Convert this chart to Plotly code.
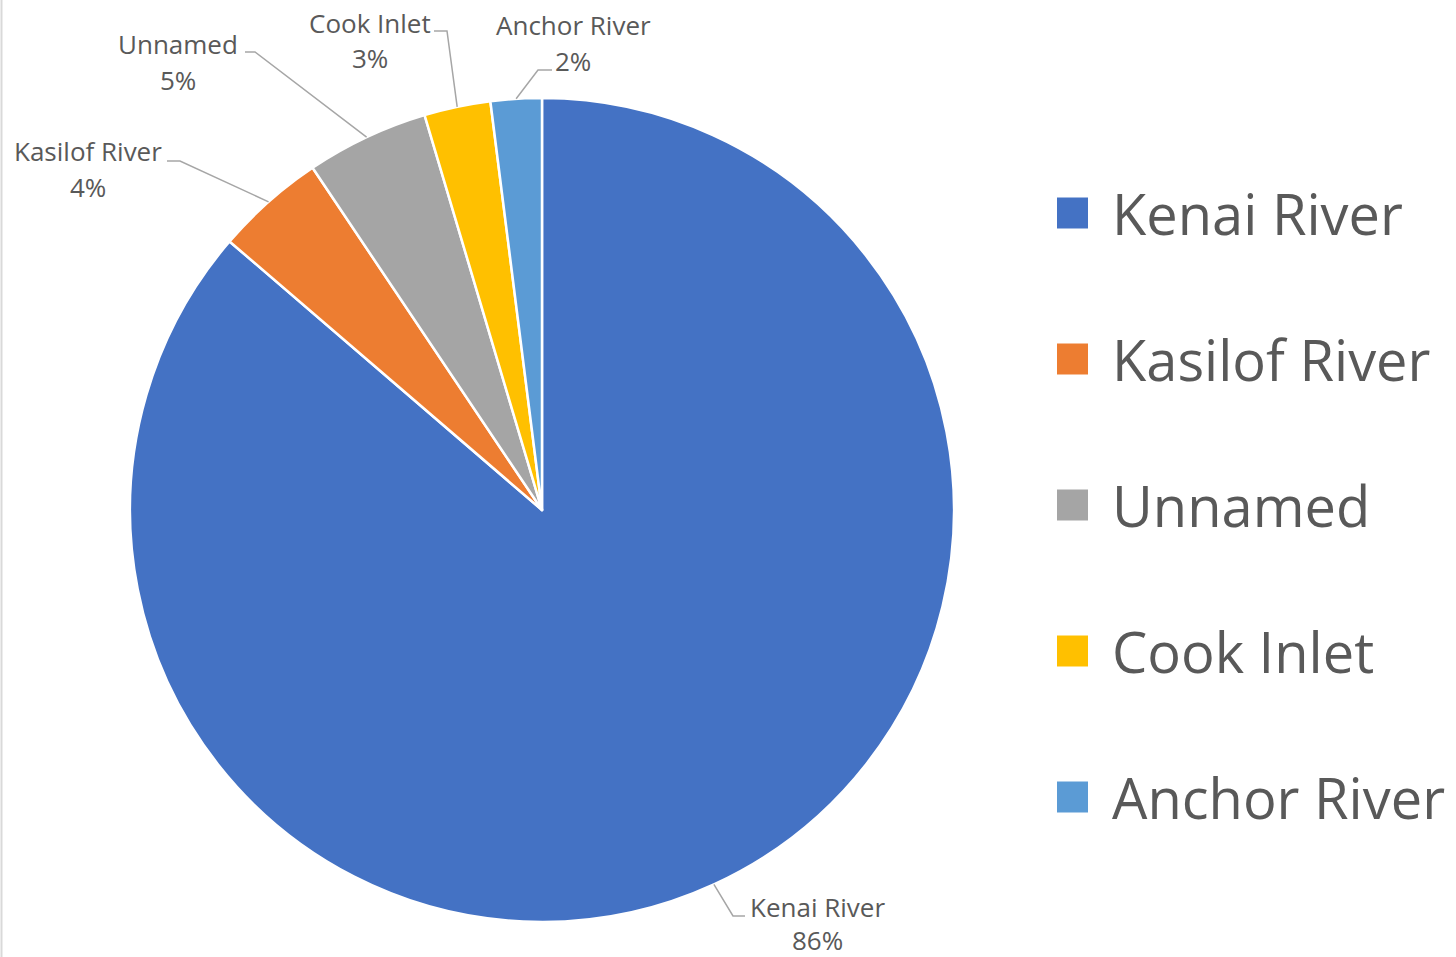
import math
import plotly.graph_objects as go

# ---- data ----
categories = ["Kenai River", "Kasilof River", "Unnamed", "Cook Inlet", "Anchor River"]
values = [86.3, 4.3, 4.8, 2.6, 2.0]
colors = ["#4472C4", "#ED7D31", "#A5A5A5", "#FFC000", "#5B9BD5"]

# ---- layout config (screen pixels) ----
W, H = 1456, 957
OFF = 0  # body margin removed below
CX, CY, R = 542, 510, 412
TEXT = "#595959"
LINE = "#A6A6A6"
FONT = "Open Sans"

# label placement per slice: elbow, end of leader, name centre, pct centre
label_layout = [
    dict(elbow=(733, 916), end=(745, 916), name=(817, 907), pct=(817, 940)),
    dict(elbow=(180, 161), end=(167, 161), name=(88, 151), pct=(88, 187)),
    dict(elbow=(255, 52), end=(245, 52), name=(178, 44), pct=(178, 80)),
    dict(elbow=(447, 31), end=(434, 31), name=(370, 23), pct=(370, 58)),
    dict(elbow=(538, 70), end=(552, 70), name=(573, 25), pct=(573, 61)),
]

LEG_X_SQ, LEG_SQ, LEG_X_TXT = 1057, 31, 1110
LEG_Y0, LEG_STEP = 213, 146


def px(x):
    return (x - OFF) / W


def py(y):
    return 1 - (y - OFF) / H


fig = go.Figure()
fig.add_trace(go.Pie(
    labels=categories,
    values=values,
    sort=False,
    direction="clockwise",
    rotation=0,
    textinfo="none",
    hoverinfo="label+percent",
    marker=dict(colors=colors, line=dict(color="white", width=2.5)),
    domain=dict(x=[px(CX - R), px(CX + R)], y=[py(CY + R), py(CY - R)]),
    showlegend=False,
))

total = sum(values)
shapes = []
annotations = []
cum = 0.0
for cat, v, lay in zip(categories, values, label_layout):
    mid = (cum + v / 2) / total * 2 * math.pi
    cum += v
    ex = CX + R * math.sin(mid)
    ey = CY - R * math.cos(mid)
    (bx, by), (qx, qy) = lay["elbow"], lay["end"]
    shapes.append(dict(
        type="path", xref="paper", yref="paper",
        path=f"M {px(ex)},{py(ey)} L {px(bx)},{py(by)} L {px(qx)},{py(qy)}",
        line=dict(color=LINE, width=1.5),
    ))
    pct = f"{round(v / total * 100):.0f}%"
    for txt, pos in ((cat, lay["name"]), (pct, lay["pct"])):
        annotations.append(dict(
            x=px(pos[0]), y=py(pos[1]), xref="paper", yref="paper",
            text=txt, showarrow=False, xanchor="center", yanchor="middle",
            font=dict(family=FONT, size=26, color=TEXT),
        ))

# legend drawn manually (large swatches)
for i, (cat, col) in enumerate(zip(categories, colors)):
    cy = LEG_Y0 + i * LEG_STEP
    shapes.append(dict(
        type="rect", xref="paper", yref="paper",
        x0=px(LEG_X_SQ), x1=px(LEG_X_SQ + LEG_SQ),
        y0=py(cy + LEG_SQ / 2), y1=py(cy - LEG_SQ / 2),
        fillcolor=col, line=dict(width=0),
    ))
    annotations.append(dict(
        x=px(LEG_X_TXT), y=py(cy), xref="paper", yref="paper",
        text=cat, showarrow=False, xanchor="left", yanchor="middle",
        font=dict(family=FONT, size=56, color=TEXT),
    ))

# faint left border
shapes.append(dict(type="line", xref="paper", yref="paper",
                   x0=px(1.5), x1=px(1.5), y0=0, y1=1,
                   line=dict(color="#D9D9D9", width=2)))

fig.update_layout(
    width=W, height=H,
    margin=dict(l=0, r=0, t=0, b=0),
    paper_bgcolor="white",
    plot_bgcolor="white",
    shapes=shapes,
    annotations=annotations,
    showlegend=False,
)

fig.write_html(
    "out.html",
    config={"displayModeBar": False},
    post_script="document.body.style.margin='0';document.body.style.overflow='hidden';",
)
